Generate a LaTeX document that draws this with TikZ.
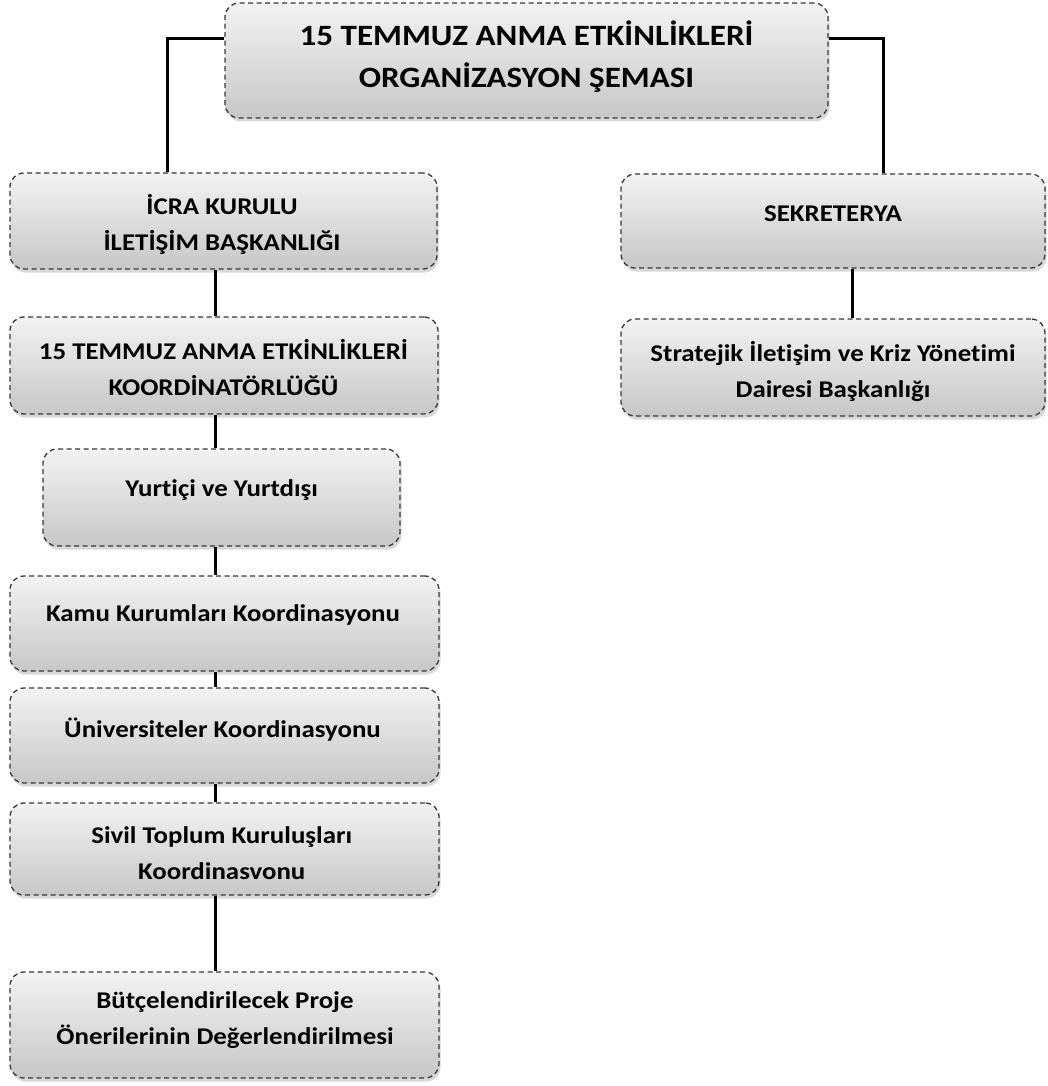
\documentclass[tikz,border=0pt]{standalone}
\usepackage{fontspec}
\setmainfont{Carlito}[FakeStretch=1.12, Ligatures=NoCommon]
\usetikzlibrary{shadows}
\tikzset{
  box/.style={draw=black!78, dashed, dash pattern=on 5pt off 3.5pt, line width=1.3pt,
    rounded corners=14pt, top color=black!5, bottom color=black!22,
    drop shadow={opacity=0.3, shadow xshift=1.5pt, shadow yshift=-3.5pt},
    inner sep=0pt},
  bigtxt/.style={align=center, font=\bfseries\fontsize{29.5}{42}\selectfont, text=black},
  txt/.style={align=center, font=\bfseries\fontsize{24}{36}\selectfont, text=black},
  conn/.style={line width=3pt, draw=black}
}
\begin{document}
\begin{tikzpicture}[x=1pt,y=-1pt]
\useasboundingbox[fill=white] (0,0) rectangle (1048,1086);
% boxes
\node[box, minimum width=603pt, minimum height=115pt] (top) at (526.5,60.5) {};
\node[box, minimum width=427pt, minimum height=96pt] (icra) at (223.5,221) {};
\node[box, minimum width=424pt, minimum height=94pt] (sek) at (833,221) {};
\node[box, minimum width=428pt, minimum height=97pt] (koord) at (224,365.5) {};
\node[box, minimum width=424pt, minimum height=97pt] (strat) at (833,367.5) {};
\node[box, minimum width=357pt, minimum height=97pt] (yurt) at (221.5,497.5) {};
\node[box, minimum width=429pt, minimum height=95pt] (kamu) at (224.5,623.5) {};
\node[box, minimum width=429pt, minimum height=95pt] (univ) at (224.5,735.5) {};
\node[box, minimum width=429pt, minimum height=92pt] (sivil) at (224.5,849) {};
\node[box, minimum width=429pt, minimum height=106pt] (butce) at (224.5,1025) {};
% texts
\node[bigtxt] (ttop) at (526.5,57) {15 TEMMUZ ANMA ETKİNLİKLERİ\\ORGANİZASYON ŞEMASI};
\node[txt] (ticra) at (222,224) {İCRA KURULU\\İLETİŞİM BAŞKANLIĞI};
\node[txt] (tsek) at (833,214) {SEKRETERYA};
\node[txt] (tkoord) at (223.5,367.5) {15 TEMMUZ ANMA ETKİNLİKLERİ\\KOORDİNATÖRLÜĞÜ};
\node[txt] (tstrat) at (833,371.5) {Stratejik İletişim ve Kriz Yönetimi\\Dairesi Başkanlığı};
\node[txt] (tyurt) at (221.7,490) {Yurtiçi ve Yurtdışı};
\node[txt] (tkamu) at (223,615) {Kamu Kurumları Koordinasyonu};
\node[txt] (tuniv) at (222.5,730) {Üniversiteler Koordinasyonu};
\node[txt] (tsivil) at (221.7,853.5) {Sivil Toplum Kuruluşları\\Koordinasvonu};
\node[txt] (tbutce) at (225,1020.5) {Bütçelendirilecek Proje\\Önerilerinin Değerlendirilmesi};
% connectors
\coordinate (lx) at (215.5,0);
\coordinate (rx) at (852,0);
\draw[conn] ([yshift=21.5pt]top.west) -| ([xshift=-56.5pt]icra.north);
\draw[conn] ([yshift=21.5pt]top.east) -| ([xshift=50pt]sek.north);
\draw[conn] (icra.south -| lx) -- (koord.north -| lx);
\draw[conn] (koord.south -| lx) -- (yurt.north -| lx);
\draw[conn] (yurt.south -| lx) -- (kamu.north -| lx);
\draw[conn] (kamu.south -| lx) -- (univ.north -| lx);
\draw[conn] (univ.south -| lx) -- (sivil.north -| lx);
\draw[conn] (sivil.south -| lx) -- (butce.north -| lx);
\draw[conn] (sek.south -| rx) -- (strat.north -| rx);
\end{tikzpicture}
\end{document}
